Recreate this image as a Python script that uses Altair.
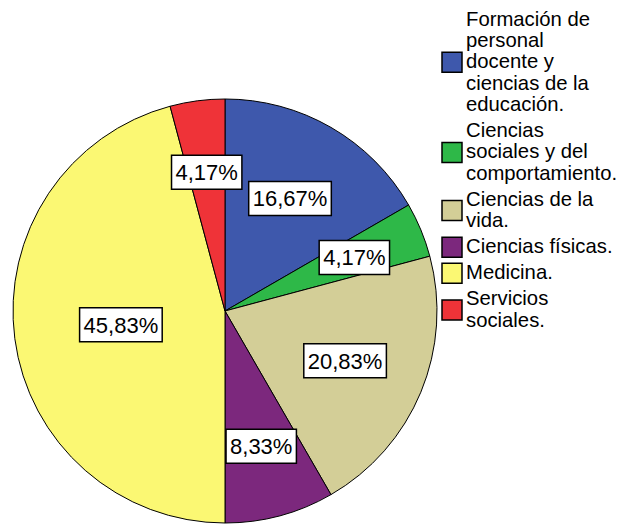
import altair as alt
import pandas as pd

categories = [
    "Formación de\npersonal\ndocente y\nciencias de la\neducación.",
    "Ciencias\nsociales y del\ncomportamiento.",
    "Ciencias de la\nvida.",
    "Ciencias físicas.",
    "Medicina.",
    "Servicios\nsociales.",
]
percentages = [16.67, 4.17, 20.83, 8.33, 45.83, 4.17]
colors = ["#3E58AC", "#2EB848", "#D3CE97", "#7C287D", "#FBF873", "#EF3338"]

df = pd.DataFrame({
    "categoria": categories,
    "value": percentages,
    "order": list(range(len(categories))),
})

CX, CY, R = 217, 303, 212
FONT = "Liberation Sans"
LH = 21.4      # legend line height
GAP = 4.6      # legend extra gap between entries
LEG_Y0 = 11.5  # first legend line centre
SYM_X = 434    # legend symbol left
TXT_X = 458    # legend text left

color_scale = alt.Scale(domain=categories, range=colors)

base = alt.Chart(df).transform_window(
    cum="sum(value)", sort=[{"field": "order"}], frame=[None, 0]
).transform_joinaggregate(
    total="sum(value)"
).transform_calculate(
    label="replace(format(datum.value, '.2f'), '.', ',') + '%'",
    mid="2*PI*(datum.cum - datum.value/2)/datum.total",
).transform_calculate(
    r="datum.value < 10 ? 140 : (datum.value < 30 ? 130 : 105)",
).transform_calculate(
    lx=f"{CX} + datum.r*sin(datum.mid)",
    ly=f"{CY} - datum.r*cos(datum.mid)",
    hw="((length(datum.label)-2)*0.556*22 + 1.167*22 + 8)/2",
).transform_calculate(
    bx1="datum.lx - datum.hw",
    bx2="datum.lx + datum.hw",
    by1="datum.ly - 17",
    by2="datum.ly + 17",
)

pie = base.mark_arc(outerRadius=R, stroke="black", strokeWidth=1).encode(
    theta=alt.Theta("value:Q", stack=True),
    order=alt.Order("order:Q"),
    color=alt.Color("categoria:N", scale=color_scale, legend=None),
    x=alt.value(CX),
    y=alt.value(CY),
)

boxes = base.mark_rect(fill="white", stroke="black", strokeWidth=1.5).encode(
    x=alt.X("bx1:Q", scale=None),
    x2="bx2:Q",
    y=alt.Y("by1:Q", scale=None),
    y2="by2:Q",
)

texts = base.mark_text(font=FONT, fontSize=22, color="black", baseline="middle", align="center", dy=1).encode(
    x=alt.X("lx:Q", scale=None),
    y=alt.Y("ly:Q", scale=None),
    text="label:N",
)

# Legend built from the same categories and colour scale
leg = alt.Chart(df).transform_calculate(
    nlines="length(split(datum.categoria, '\\n'))"
).transform_window(
    cumlines="sum(nlines)", sort=[{"field": "order"}], frame=[None, 0]
).transform_calculate(
    yfirst=f"{LEG_Y0} + (datum.cumlines - datum.nlines)*{LH} + datum.order*{GAP}",
).transform_calculate(
    yc=f"datum.yfirst + (datum.nlines - 1)*{LH}/2",
).transform_calculate(
    sy1="datum.yc - 10",
    sy2="datum.yc + 10",
)

leg_sym = leg.mark_rect(stroke="black", strokeWidth=1.5).encode(
    x=alt.value(SYM_X),
    x2=alt.value(SYM_X + 20),
    y=alt.Y("sy1:Q", scale=None),
    y2="sy2:Q",
    color=alt.Color("categoria:N", scale=color_scale, legend=None),
)

leg_txt = leg.mark_text(
    font=FONT, fontSize=20.3, color="black", align="left", baseline="middle",
    lineBreak="\n", lineHeight=LH,
).encode(
    x=alt.value(TXT_X),
    y=alt.Y("yfirst:Q", scale=None),
    text="categoria:N",
)

chart = alt.layer(pie, boxes, texts, leg_sym, leg_txt).properties(
    width=610, height=517, autosize="none", padding=0
).configure_view(stroke=None)

chart.save("out.html", embed_options={"renderer": "svg", "actions": False})
